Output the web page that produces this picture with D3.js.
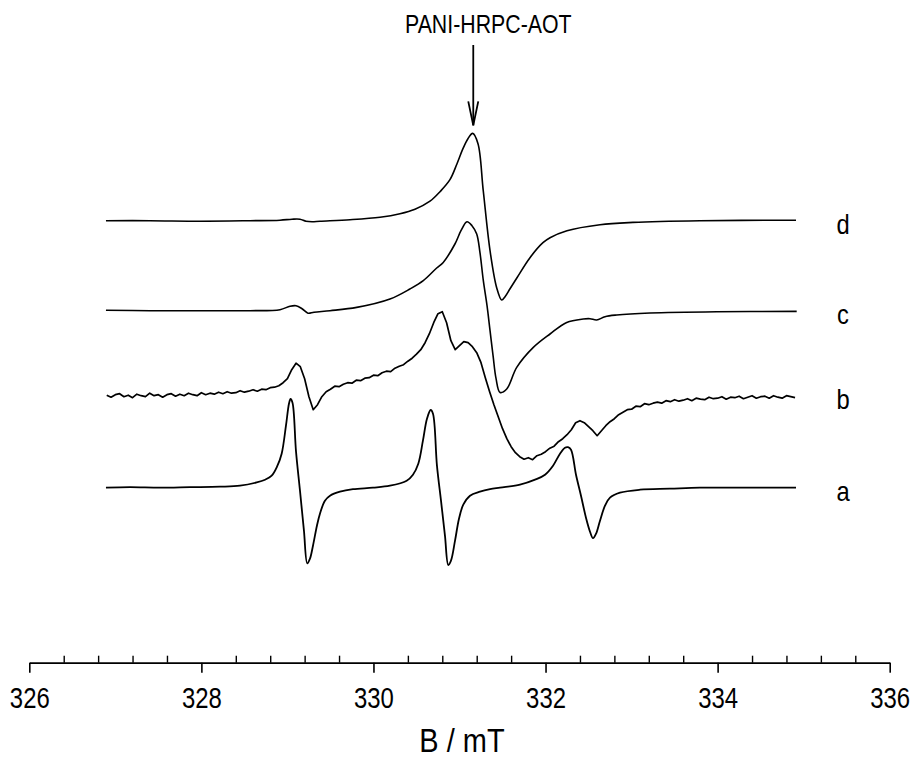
<!DOCTYPE html>
<html>
<head>
<meta charset="utf-8">
<script src="https://cdn.jsdelivr.net/npm/d3@7/dist/d3.min.js"></script>
<style>
  html, body { margin: 0; padding: 0; background: #fff; }
  svg { display: block; font-family: "Liberation Sans", Arial, sans-serif; }
</style>
</head>
<body>
<svg id="chart" width="913" height="760"></svg>
<script>
// ---------------- DATA ----------------
const xDomain = [326, 336];
const majorTicks = [326, 328, 330, 332, 334, 336];
const minorTicks = [326.4, 326.8, 327.2, 327.6, 328.4, 328.8, 329.2, 329.6, 330.4, 330.8, 331.2, 331.6,
                    332.4, 332.8, 333.2, 333.6, 334.4, 334.8, 335.2, 335.6];
const xLabel = "B / mT";
const annotationText = "PANI-HRPC-AOT";
const annotationB = 331.16;

const seriesNames = ["a", "b", "c", "d"];
const seriesOffsets = [175, 267, 352, 442];

// trace a
const aB = [326.891, 327.170, 327.519, 327.868, 328.217, 328.449, 328.643, 328.740, 328.817, 328.879,
            328.933, 328.983, 329.018, 329.036, 329.059, 329.100, 329.146, 329.192, 329.231, 329.262,
            329.297, 329.343, 329.378, 329.436, 329.495, 329.611, 329.762, 329.994, 330.192, 330.386,
            330.459, 330.521, 330.575, 330.622, 330.665, 330.692, 330.738, 330.785, 330.831, 330.870,
            330.901, 330.948, 330.994, 331.044, 331.122, 331.238, 331.355, 331.471, 331.703, 331.878,
            331.994, 332.087, 332.168, 332.226, 332.261, 332.296, 332.354, 332.412, 332.470, 332.517,
            332.552, 332.587, 332.633, 332.691, 332.749, 332.865, 333.098, 333.446, 333.795, 334.260,
            334.911];
const aSig = [0, 0.5, 0, 0.5, 1, 2, 5.3, 8, 12, 21,
              34, 62, 84, 88.7, 85, 36, -3, -43, -75.7, -71,
              -58, -38, -26, -13, -8, -4, -1.5, 0, 2, 7,
              13, 24, 47, 69, 77.7, 74, 22, -13, -48, -77.3,
              -73, -53, -31, -17, -8, -4, -1.5, 0, 3, 8,
              13, 22, 34, 40, 40.5, 38, 13, -8, -30, -44,
              -50.5, -46, -33, -18, -10, -5, -2, -1, 0, 0,
              0];

// trace b (sweep from 326.9 mT, step 0.05 mT)
const bStart = 326.9;
const bStep = 0.05;
const bSig = [0.5, -1.5, 1, 2, -1, 0.5, -2, 1.5, 0, -1,
              2.5, 0, 1, -1.5, 1, 2, -0.5, 1.5, 0, 2.5,
              1, 0, 3, 1, 2.5, 1.5, 3.5, 2, 4, 2.5,
              3, 5, 3.5, 4.5, 6, 4.5, 6.5, 6, 8, 8.5,
              10, 13, 17, 26, 32.5, 29, 17, -1, -14, -9,
              -1, 4, 6.5, 9.5, 9, 11.5, 13, 12.5, 15.5, 15,
              17.5, 18, 20.5, 20, 23, 24.5, 24, 27.5, 29.5, 31,
              34.5, 37.5, 41.5, 46, 53, 62, 73, 82, 84, 73,
              55, 46, 50, 54, 53, 49, 43, 33, 18, 4,
              -9, -21, -33, -43, -51, -57, -61, -63.5, -62, -64,
              -60, -58.5, -56, -52.5, -50.5, -46, -43, -39, -34, -27,
              -25, -27, -31, -35, -40, -35, -30, -26, -23, -19,
              -16.5, -14, -13.5, -10.5, -11, -8, -9, -7.5, -6.5, -7.5,
              -5, -6, -4, -5.5, -4.5, -3, -5, -2.5, -3.5, -4,
              -1.5, -3, -2.5, -1, -3.5, -1.5, -2, -0.5, -3, -1.5,
              0, -2.5, -1, -0.5, -2.5, 0, -1.5, -2.5, 0, -1,
              -2];

// trace c
const cB = [326.891, 327.403, 327.984, 328.565, 328.914, 329.030, 329.100, 329.170, 329.239, 329.309,
            329.495, 329.805, 330.192, 330.424, 330.579, 330.735, 330.811, 330.947, 331.017, 331.087,
            331.145, 331.200, 331.238, 331.277, 331.320, 331.355, 331.390, 331.425, 331.471, 331.549,
            331.665, 331.858, 332.052, 332.246, 332.439, 332.517, 332.594, 332.691, 332.827, 333.214,
            333.989, 334.919];
const cSig = [0.5, 0, 0, 0, 1, 4.5, 5, 2, -2.5, -1.5,
              0, 3.3, 11.7, 21.7, 30, 42.7, 48.3, 66.7, 80, 89,
              85, 76.7, 58, 30, 5, -20, -45, -68, -81.7, -78.3,
              -56.7, -36.7, -23.3, -11.7, -8.3, -8, -9.3, -6, -4.3, -2.3,
              -1, -0.7];

// trace d
const dB = [326.891, 327.403, 327.984, 328.565, 328.914, 329.053, 329.146, 329.216, 329.286, 329.379,
            329.728, 330.076, 330.308, 330.483, 330.657, 330.773, 330.889, 330.971, 331.040, 331.098,
            331.153, 331.215, 331.276, 331.355, 331.432, 331.490, 331.529, 331.587, 331.668, 331.819,
            331.970, 332.052, 332.249, 332.633, 333.016, 333.795, 334.911];
const dSig = [0, 0, -0.5, 0, 0.5, 1.5, 1.5, -0.5, -1, -0.5,
              1, 3.5, 7, 11.5, 19.5, 29, 41, 57, 72, 82,
              87.3, 77, 30, -30, -67, -79.3, -76, -68, -57, -37,
              -22, -17, -10, -4, -1.7, 0, 0.5];

// ---------------- CHART ----------------
const svg = d3.select("#chart");
const x = d3.scaleLinear().domain(xDomain).range([29.3, 889.7]);
const y = d3.scaleLinear().domain([0, 600]).range([662.7, 62.7]);

const smooth = d3.curveCatmullRom.alpha(0.5);
const traces = [
  { name: "a", B: aB, s: aSig, off: seriesOffsets[0], w: 1.8, curve: smooth },
  { name: "b", B: bSig.map((_, i) => bStart + i * bStep), s: bSig, off: seriesOffsets[1], w: 1.7, curve: d3.curveLinear },
  { name: "c", B: cB, s: cSig, off: seriesOffsets[2], w: 1.6, curve: smooth },
  { name: "d", B: dB, s: dSig, off: seriesOffsets[3], w: 1.6, curve: smooth }
];

traces.forEach(t => {
  const pts = t.B.map((b, i) => [b, t.s[i] + t.off]);
  const line = d3.line().x(d => x(d[0])).y(d => y(d[1])).curve(t.curve);
  svg.append("path")
    .attr("d", line(pts))
    .attr("fill", "none")
    .attr("stroke", "#000")
    .attr("stroke-width", t.w)
    .attr("stroke-linejoin", "round");
});

// trace labels
const labelB = 335.457;
traces.forEach(t => {
  svg.append("text")
    .attr("transform", `translate(${x(labelB)},${y(t.off) + 13}) scale(0.88,1.05)`)
    .attr("text-anchor", "middle")
    .attr("font-size", 27)
    .attr("fill", "#000")
    .text(t.name);
});

// axis
const axisY = 662.7;
const gMajor = svg.append("g")
  .attr("transform", `translate(0,${axisY})`)
  .call(d3.axisBottom(x).tickValues(majorTicks).tickSizeInner(10).tickSizeOuter(0).tickPadding(12).tickFormat(d3.format("d")));
gMajor.select(".domain").attr("stroke", "#000").attr("stroke-width", 1.8);
gMajor.selectAll(".tick line").attr("stroke", "#000").attr("stroke-width", 1.6);
gMajor.selectAll(".tick text")
  .attr("font-size", 26)
  .attr("font-family", "Liberation Sans, Arial, sans-serif")
  .attr("fill", "#000")
  .attr("transform", "scale(0.92,1.12)");

const gMinor = svg.append("g")
  .attr("transform", `translate(0,${axisY})`)
  .call(d3.axisTop(x).tickValues(minorTicks).tickSize(7).tickFormat(""));
gMinor.select(".domain").remove();
gMinor.selectAll(".tick line").attr("stroke", "#000").attr("stroke-width", 1.4);

// axis title
svg.append("text")
  .attr("transform", `translate(462,752) scale(1,1.12)`)
  .attr("text-anchor", "middle")
  .attr("font-size", 29)
  .attr("fill", "#000")
  .text(xLabel);

// annotation
const ax = x(annotationB);
svg.append("text")
  .attr("transform", `translate(${ax + 15},33) scale(0.82,1)`)
  .attr("text-anchor", "middle")
  .attr("font-size", 26)
  .attr("fill", "#000")
  .text(annotationText);
const tipY = y(seriesOffsets[3] + 87.3) - 8;
svg.append("line")
  .attr("x1", ax).attr("x2", ax).attr("y1", 45).attr("y2", tipY)
  .attr("stroke", "#000").attr("stroke-width", 1.8);
svg.append("path")
  .attr("d", `M${ax - 5},${tipY - 24} L${ax},${tipY} L${ax + 5},${tipY - 24}`)
  .attr("fill", "none").attr("stroke", "#000").attr("stroke-width", 1.8);
</script>
</body>
</html>
